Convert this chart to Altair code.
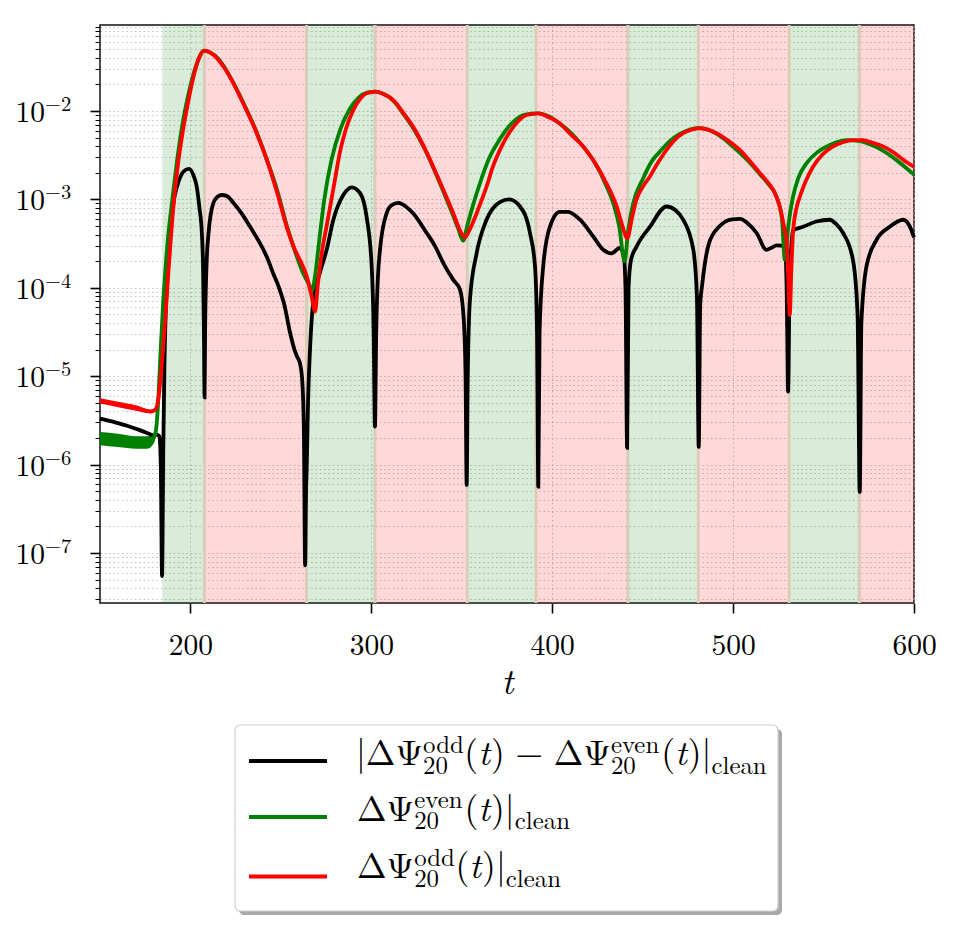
import altair as alt
import pandas as pd

SERIF = "Latin Modern Roman"

# ---- curves: (t, log10 of magnitude) ----
black = [(150, -5.48), (158, -5.52), (165, -5.56), (172, -5.61), (177, -5.65), (179.5, -5.67),
         (181.5, -5.66), (182.8, -5.68), (183.6, -6.0), (184.3, -7.26), (185.0, -5.8), (185.6, -4.9),
         (186.3, -4.3), (187.5, -3.8), (188.8, -3.38), (190.5, -3.05), (192.5, -2.86), (195, -2.72),
         (197, -2.67), (199.3, -2.655), (201.5, -2.72), (203.5, -2.86), (205, -3.1), (206.3, -3.38),
         (207.0, -3.8), (207.5, -4.6), (207.8, -5.24), (208.1, -4.5), (208.8, -3.8), (210, -3.38),
         (212.7, -3.04), (215, -2.97), (217.3, -2.95), (220, -2.96), (223.8, -3.04), (228, -3.15),
         (233, -3.31), (238, -3.48), (242.2, -3.65), (246, -3.85), (249, -4.0), (252, -4.2),
         (255, -4.5), (257.5, -4.7), (259, -4.78), (260.5, -4.85), (261.8, -5.05), (262.7, -5.6),
         (263.4, -7.14), (263.9, -6.3), (264.3, -6.02), (265, -5.3), (266.1, -4.7), (268, -4.14),
         (271.7, -3.82), (275.3, -3.57), (279, -3.23), (284.5, -2.95), (289.2, -2.863), (293.8, -2.93),
         (297.4, -3.2), (300.2, -3.76), (301.3, -4.5), (302, -5.57), (302.7, -4.5), (303.6, -3.9),
         (304.8, -3.57), (308.4, -3.16), (311, -3.07), (315, -3.04), (319, -3.08), (323.2, -3.16),
         (330.6, -3.38), (335, -3.52), (339.8, -3.72), (345.3, -3.91), (349, -4.02), (351.1, -4.36),
         (352.1, -5.0), (352.7, -6.23), (353.3, -5.0), (354.5, -4.14), (358.2, -3.61), (363.7, -3.23),
         (371.1, -3.03), (376.2, -3.0), (382.2, -3.08), (387.7, -3.38), (390.5, -3.76), (391.6, -4.5),
         (392.3, -6.25), (393, -4.5), (395, -3.76), (398.7, -3.31), (404.2, -3.14), (408.8, -3.14),
         (415.4, -3.23), (422.7, -3.42), (428.2, -3.57), (432.8, -3.61), (437.4, -3.55), (439.5, -3.62),
         (440.5, -4.0), (441.4, -5.81), (442.2, -4.0), (443.5, -3.69), (446.6, -3.535), (454, -3.31),
         (463.2, -3.08), (468, -3.12), (472.4, -3.23), (478, -3.57), (480, -4.1), (481, -5.80),
         (481.8, -4.2), (483, -3.95), (486.6, -3.5), (492.2, -3.31), (499.5, -3.225), (504, -3.22),
         (508, -3.27), (513, -3.38), (518.4, -3.57), (521, -3.55), (524, -3.52), (528.6, -3.53),
         (529.6, -4.0), (530.4, -5.175), (531.2, -4.0), (533.1, -3.35), (538.7, -3.31), (546, -3.25),
         (553.4, -3.23), (557, -3.28), (560.8, -3.38), (566.3, -3.69), (568.8, -4.3), (570, -6.31),
         (570.9, -4.4), (573.7, -3.76), (579.2, -3.46), (586.6, -3.31), (594, -3.23), (597.8, -3.31),
         (600, -3.43)]

green = [(150, -5.705), (160, -5.725), (170, -5.75), (176, -5.75), (179, -5.715), (180.5, -5.66),
         (181.5, -5.5), (182.5, -5.15), (183.5, -4.72), (185, -4.14), (186.5, -3.7), (188, -3.35),
         (190, -3.0), (193, -2.5), (196, -2.1), (199, -1.8), (202, -1.56), (205, -1.39), (207.3, -1.318),
         (211, -1.34), (215, -1.40), (219, -1.51), (224, -1.69), (230, -1.94), (236, -2.21), (242, -2.54),
         (248, -2.9), (253, -3.28), (258, -3.6), (262, -3.82), (265, -3.94), (267.4, -4.02), (269, -3.85),
         (271, -3.5), (274, -3.0), (278, -2.55), (283, -2.2), (288, -1.98), (293, -1.85), (298, -1.79),
         (302, -1.78), (306, -1.8), (312, -1.88), (318, -2.04), (323, -2.19), (329, -2.41), (334, -2.63),
         (340, -2.92), (345, -3.17), (348, -3.33), (350.8, -3.467), (353, -3.3), (356, -3.08), (360, -2.82),
         (365, -2.54), (371, -2.32), (378, -2.13), (385, -2.04), (392, -2.026), (398, -2.06), (404, -2.14),
         (411, -2.26), (417, -2.40), (424, -2.6), (430, -2.85), (434, -3.06), (437, -3.3), (440, -3.70),
         (442, -3.35), (444.7, -3.05), (450.3, -2.76), (455, -2.57), (459.5, -2.46), (465, -2.34),
         (470.6, -2.26), (476, -2.21), (481, -2.19), (486, -2.21), (491, -2.26), (497, -2.35), (503, -2.46),
         (509, -2.58), (515, -2.72), (520, -2.84), (524, -2.97), (527, -3.22), (528.6, -3.685), (530.5, -3.3),
         (533, -2.98), (536, -2.76), (541, -2.58), (547, -2.46), (555, -2.37), (563, -2.33), (570, -2.34),
         (576, -2.38), (583, -2.45), (590, -2.55), (596, -2.65), (600, -2.72)]

red = [(150, -5.28), (160, -5.32), (170, -5.36), (178, -5.40), (180.5, -5.38), (182.3, -5.25),
       (183.5, -5.02), (184.5, -4.78), (186, -4.38), (187.5, -3.92), (190.5, -3.1), (193, -2.62),
       (196.1, -2.19), (199, -1.87), (201.6, -1.62), (204, -1.44), (207.7, -1.318), (211, -1.34),
       (215, -1.41), (219, -1.52), (223.8, -1.69), (230, -1.95), (236, -2.22), (242.2, -2.55), (248, -2.93),
       (253.2, -3.31), (258, -3.58), (260.6, -3.69), (264.3, -3.87), (267, -4.1), (268.9, -4.27),
       (270.5, -3.95), (272.5, -3.62), (275.3, -3.3), (279, -2.88), (282.9, -2.44), (286, -2.2),
       (290, -1.99), (294, -1.86), (297.4, -1.80), (302.5, -1.78), (307, -1.81), (312.1, -1.876),
       (318, -2.03), (323.2, -2.18), (329, -2.4), (334.2, -2.63), (340, -2.9), (345.3, -3.157),
       (349, -3.35), (351.8, -3.43), (354, -3.36), (356.4, -3.25), (360, -3.06), (363.7, -2.856),
       (367, -2.64), (371.1, -2.44), (378.5, -2.18), (385.9, -2.045), (392.3, -2.026), (398, -2.07),
       (404.2, -2.14), (410, -2.26), (417.1, -2.40), (424, -2.6), (430, -2.82), (435.6, -3.08),
       (438.5, -3.28), (441.5, -3.44), (444, -3.22), (446.6, -3.0), (450, -2.86), (454, -2.74),
       (458, -2.6), (463.2, -2.44), (468, -2.32), (472.4, -2.25), (477, -2.21), (481.6, -2.196),
       (486, -2.21), (490.8, -2.25), (497, -2.33), (503.7, -2.44), (509, -2.56), (514.7, -2.70),
       (518.5, -2.79), (522.1, -2.89), (525, -3.03), (526.7, -3.16), (528.5, -3.35), (529.5, -3.46),
       (530.5, -3.9), (531.3, -4.31), (532.2, -3.8), (533.1, -3.38), (535, -3.1), (536.9, -2.97),
       (540, -2.8), (544.2, -2.63), (549, -2.5), (555.3, -2.40), (561, -2.35), (566.3, -2.33),
       (571.8, -2.33), (577, -2.36), (582.9, -2.40), (588, -2.46), (592.1, -2.52), (596, -2.58),
       (600, -2.63)]

# early-time spread of the even / odd signals: (t, lower log10, upper log10)
green_spread = [(150, -5.78, -5.63), (160, -5.80, -5.65), (170, -5.82, -5.68), (176, -5.82, -5.68),
                (179, -5.78, -5.65), (180.5, -5.72, -5.62), (181.5, -5.55, -5.5)]
red_spread = [(150, -5.31, -5.25), (160, -5.35, -5.29), (170, -5.39, -5.33), (178, -5.42, -5.38),
              (180.5, -5.40, -5.36)]

# shaded windows
band_edges = [184.4, 207.7, 264.2, 302.0, 353.0, 391.0, 441.8, 480.7, 531.0, 569.8, 600.0]
band_kind = ["even", "odd", "even", "odd", "even", "odd", "even", "odd", "even", "odd"]

x_ticks = [200, 300, 400, 500, 600]
y_exponents = [-7, -6, -5, -4, -3, -2]

# ---- geometry ----
W, H = 814, 578
Y_LO, Y_HI = 10 ** -7.5656, 10 ** -1.0271
LW = 3.8


def curve_df(pairs):
    return pd.DataFrame({"t": [p[0] for p in pairs], "v": [10 ** p[1] for p in pairs]})


def spread_df(rows):
    return pd.DataFrame({"t": [r[0] for r in rows],
                         "lo": [10 ** r[1] for r in rows],
                         "hi": [10 ** r[2] for r in rows]})


bands = pd.DataFrame({"start": band_edges[:-1], "end": band_edges[1:], "kind": band_kind})
edges = pd.DataFrame({"t": band_edges[1:-1]})

y_major = [10.0 ** e for e in y_exponents]
y_ticks = []
for e in range(-8, 0):
    for k in range(1, 10):
        val = k * 10.0 ** e
        if Y_LO <= val <= Y_HI:
            y_ticks.append(val)

MAJOR = "abs(log(datum.value)/LN10 - round(log(datum.value)/LN10)) < 0.001"
GRID_COLOR = "#b4b4b4"
GRID_DASH = [1.5, 2.8]

xscale = alt.Scale(domain=[150, 600], nice=False, zero=False)
yscale = alt.Scale(type="log", domain=[Y_LO, Y_HI], nice=False)

xaxis = alt.Axis(values=x_ticks, format="d", labelFont=SERIF, labelFontSize=29.5, labelColor="black",
                 labelBaseline="alphabetic", labelPadding=41, labelFlush=False, labelOverlap=False,
                 tickSize=10, tickWidth=1.6, tickColor="black", domain=False,
                 grid=True, gridColor=GRID_COLOR, gridDash=GRID_DASH, gridWidth=1, gridOpacity=0.8,
                 title="t", titleFont=SERIF, titleFontStyle="italic", titleFontWeight="normal",
                 titleFontSize=36, titleColor="black", titleBaseline="alphabetic", titleY=90,
                 titleX=W / 2, titleAlign="center")
yaxis = alt.Axis(values=y_ticks, labels=False, domain=False, title=None, tickColor="black",
                 tickSize={"condition": {"test": MAJOR, "value": 10}, "value": 5},
                 tickWidth={"condition": {"test": MAJOR, "value": 1.6}, "value": 1.0},
                 grid=True, gridColor=GRID_COLOR, gridDash=GRID_DASH, gridWidth=1, gridOpacity=0.8)

X = alt.X("t:Q", scale=xscale, axis=xaxis)
Y = alt.Y("v:Q", scale=yscale, axis=yaxis)

band_layer = alt.Chart(bands).mark_rect(opacity=0.15).encode(
    x=alt.X("start:Q", scale=xscale, axis=xaxis), x2="end:Q",
    y=alt.value(0), y2=alt.value(H),
    color=alt.Color("kind:N", scale=alt.Scale(domain=["even", "odd"], range=["#008000", "#ff0000"]),
                    legend=None))

edge_layer = alt.Chart(edges).mark_rule(color="#d9ccb8", strokeWidth=3).encode(
    x=X, y=alt.value(0), y2=alt.value(H))


def spread_layer(rows, color):
    return alt.Chart(spread_df(rows)).mark_area(color=color, interpolate="monotone").encode(
        x=X, y=alt.Y("lo:Q", scale=yscale, axis=yaxis), y2="hi:Q")


def line_layer(pairs, color):
    return alt.Chart(curve_df(pairs)).mark_line(color=color, strokeWidth=LW,
                                                interpolate="monotone").encode(x=X, y=Y)


# y tick labels as 10 with a raised exponent
ylab = pd.DataFrame({"v": y_major})
tens = alt.Chart(ylab).mark_text(text="10", align="right", baseline="alphabetic", font=SERIF,
                                 fontSize=29.5, dy=11, color="black").encode(
    x=alt.value(-55), y=Y)
powers = alt.Chart(ylab).transform_calculate(
    p="'\u2212' + toString(-round(log(datum.v) / LN10))"
).mark_text(align="left", baseline="alphabetic", font=SERIF, fontSize=20.5, dy=0,
            color="black").encode(x=alt.value(-55), y=Y, text="p:N")

# ---- legend ----
one = pd.DataFrame({"k": [0]})


def box(x1, x2, y1, y2, **kw):
    return alt.Chart(one).mark_rect(cornerRadius=5, **kw).encode(
        x=alt.value(x1), x2=alt.value(x2), y=alt.value(y1), y2=alt.value(y2))


def sample(y, color):
    return alt.Chart(one).mark_rule(color=color, strokeWidth=LW).encode(
        x=alt.value(149), x2=alt.value(227), y=alt.value(y))


def piece(txt, x, y, size, italic=False):
    return alt.Chart(one).mark_text(text=txt, align="left", baseline="alphabetic", font=SERIF,
                                    fontSize=size, fontStyle="italic" if italic else "normal",
                                    color="black").encode(x=alt.value(x), y=alt.value(y))


# advance widths (em) of the Computer Modern glyphs used in the legend
ADV = {"|": 0.278, "\u0394": 0.833, "\u03a8": 0.778, "(": 0.389, ")": 0.389, "t": 0.361,
       "\u2212": 0.778, "0": 0.5, "2": 0.5, "o": 0.5, "d": 0.556, "e": 0.444, "v": 0.528,
       "n": 0.556, "c": 0.444, "l": 0.278, "a": 0.5}
MAIN = 35.5
SCRIPT = 0.7 * MAIN
SUP_UP, SUB_DOWN = 12.5, 8.5
BIN_SPACE = 0.3


def adv(s, size):
    return sum(ADV[ch] for ch in s) * size


def math_row(x0, base, tokens):
    """Lay out a row of math pieces left to right; tokens are (kind, text[, text2])."""
    out, x = [], x0
    for tok in tokens:
        kind = tok[0]
        if kind == "m":
            out.append(piece(tok[1], x, base, MAIN))
            x += adv(tok[1], MAIN)
        elif kind == "it":
            out.append(piece(tok[1], x, base, MAIN, italic=True))
            x += adv(tok[1], MAIN)
        elif kind == "bin":
            x += BIN_SPACE * MAIN
            out.append(piece(tok[1], x, base, MAIN))
            x += adv(tok[1], MAIN) + BIN_SPACE * MAIN
        elif kind == "supsub":
            out.append(piece(tok[1], x, base - SUP_UP, SCRIPT))
            out.append(piece(tok[2], x, base + SUB_DOWN, SCRIPT))
            x += max(adv(tok[1], SCRIPT), adv(tok[2], SCRIPT)) + 0.05 * SCRIPT
        elif kind == "sub":
            out.append(piece(tok[1], x, base + SUB_DOWN, SCRIPT))
            x += adv(tok[1], SCRIPT)
    return out


DPSI = "\u0394\u03a8"
ARG = [("m", "("), ("it", "t"), ("m", ")")]
row1 = math_row(256, 740, [("m", "|"), ("m", DPSI), ("supsub", "odd", "20")] + ARG +
                [("bin", "\u2212"), ("m", DPSI), ("supsub", "even", "20")] + ARG +
                [("m", "|"), ("sub", "clean")])
row2 = math_row(257, 795.5, [("m", DPSI), ("supsub", "even", "20")] + ARG +
                [("m", "|"), ("sub", "clean")])
row3 = math_row(257, 853, [("m", DPSI), ("supsub", "odd", "20")] + ARG +
                [("m", "|"), ("sub", "clean")])

legend_layers = [
    box(139, 682, 704, 890, fill="#a9a9a9"),
    box(135, 678, 700, 886, fill="white", stroke="#cfcfcf", strokeWidth=1.2),
    sample(736, "#000000"), sample(792, "#008000"), sample(851.5, "#ff0000"),
] + row1 + row2 + row3

chart = alt.layer(
    band_layer, edge_layer,
    spread_layer(green_spread, "#008000"), spread_layer(red_spread, "#ff0000"),
    line_layer(black, "#000000"), line_layer(green, "#008000"), line_layer(red, "#ff0000"),
    tens, powers, *legend_layers
).properties(
    width=W, height=H,
    padding={"left": 100, "top": 25, "right": 39, "bottom": 325},
    autosize=alt.AutoSizeParams(type="none"),
    background="white",
).configure_view(stroke="#111111", strokeWidth=1.5)

chart.save("out.html", embed_options={"renderer": "svg", "actions": False})
